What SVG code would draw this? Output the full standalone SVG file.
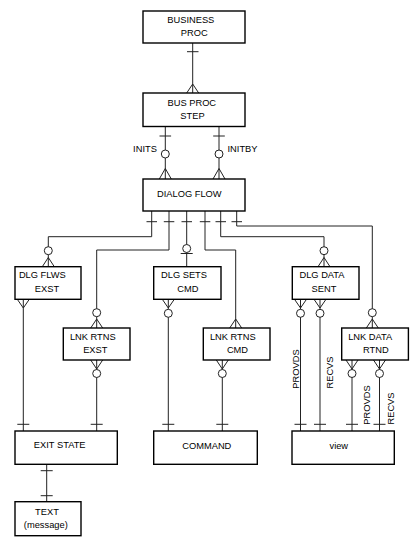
<svg xmlns="http://www.w3.org/2000/svg" width="419" height="551" viewBox="0 0 419 551">
<style>
.box{fill:#fff;stroke:#000;stroke-width:1.4}
.ln{fill:none;stroke:#222;stroke-width:1}
.c{fill:#fff;stroke:#222;stroke-width:1}
text{font-family:"Liberation Sans",Arial,sans-serif;font-size:9.3px;fill:#000;text-anchor:middle}
</style>
<rect width="419" height="551" fill="#fff"/>
<g id="connectors">
<!-- BUSINESS PROC - BUS PROC STEP -->
<path class="ln" d="M192.7 43V93M187 51.7H198.5M186.7 93L192.7 84L198.7 93"/>
<!-- INITS -->
<path class="ln" d="M165.3 126.5V179M159.5 136H171.1M159.3 179L165.3 168.5L171.3 179"/>
<circle class="c" cx="165.3" cy="154" r="4"/>
<!-- INITBY -->
<path class="ln" d="M219 126.5V179M213.2 136H224.8M213 179L219 168.5L225 179"/>
<circle class="c" cx="219" cy="154" r="4"/>
<!-- DIALOG FLOW fan-out -->
<path class="ln" d="M151.7 211V236.7H48.3V266.7M146.5 221.7H157M42.3 266.7L48.3 257.5L54.3 266.7"/>
<circle class="c" cx="48.3" cy="250.7" r="4"/>
<path class="ln" d="M169 211V250H96.7V328M163.8 221.7H174.3M90.7 328L96.7 319L102.7 328"/>
<circle class="c" cx="96.7" cy="312.7" r="4"/>
<path class="ln" d="M186.7 211V266.7M181.5 221.7H192M180.7 253.5H192.7"/>
<circle class="c" cx="186.7" cy="248.5" r="4"/>
<path class="ln" d="M205 211V250H235.7V328M199.8 221.7H210.3M229.7 328L235.7 319L241.7 328"/>
<path class="ln" d="M220.7 211V236.7H324V266.7M215.5 221.7H226M318 266.7L324 257.5L330 266.7"/>
<circle class="c" cx="324" cy="250.7" r="4"/>
<path class="ln" d="M236.7 211V226H372.3V328M231.5 221.7H242M366.3 328L372.3 319L378.3 328"/>
<circle class="c" cx="372.3" cy="312.7" r="4"/>
<!-- to EXIT STATE -->
<path class="ln" d="M23.3 299.3V431M17.3 299.3L23.3 308L29.3 299.3M17.3 424.3H29.3"/>
<path class="ln" d="M96.7 360V431M90.7 360L96.7 369L102.7 360M90.7 424.3H102.7"/>
<circle class="c" cx="96.7" cy="373.5" r="4"/>
<!-- to COMMAND -->
<path class="ln" d="M168.3 299.3V431M162.3 299.3L168.3 308L174.3 299.3M162.3 424.3H174.3"/>
<circle class="c" cx="168.3" cy="313.3" r="4"/>
<path class="ln" d="M222.3 360V431M216.3 360L222.3 369L228.3 360M216.3 424.3H228.3"/>
<circle class="c" cx="222.3" cy="373.5" r="4"/>
<!-- to view -->
<path class="ln" d="M300.5 299.3V431M294.5 299.3L300.5 308L306.5 299.3M294.5 424.3H306.5"/>
<circle class="c" cx="300.5" cy="313.3" r="4"/>
<path class="ln" d="M320 299.3V431M314 299.3L320 308L326 299.3M314 424.3H326"/>
<circle class="c" cx="320" cy="313.3" r="4"/>
<path class="ln" d="M352 360V431M346 360L352 369L358 360M346 424.3H358"/>
<circle class="c" cx="352" cy="373.5" r="4"/>
<path class="ln" d="M379.5 360V431M373.5 360L379.5 369L385.5 360M373.5 424.3H385.5"/>
<circle class="c" cx="379.5" cy="373.5" r="4"/>
<!-- EXIT STATE - TEXT -->
<path class="ln" d="M46.7 464.3V501.7M40.7 470.7H52.7M40.7 495.7H52.7"/>
<!-- labels -->
<text x="145" y="152.3">INITS</text>
<text x="242.5" y="152.3">INITBY</text>
<text transform="translate(298.6 369) rotate(-90)">PROVDS</text>
<text transform="translate(333 372.5) rotate(-90)">RECVS</text>
<text transform="translate(369.8 405) rotate(-90)">PROVDS</text>
<text transform="translate(393.8 408.5) rotate(-90)">RECVS</text>
</g>
<g id="business-proc"><rect class="box" x="143" y="11" width="102" height="32"/><text x="190.8" y="22.6">BUSINESS</text><text x="194.2" y="35.6">PROC</text></g>
<g id="bus-proc-step"><rect class="box" x="143" y="93" width="102" height="33.5"/><text x="191.8" y="106">BUS PROC</text><text x="192.5" y="119">STEP</text></g>
<g id="dialog-flow"><rect class="box" x="143" y="179" width="102" height="32"/><text x="189.3" y="196.6">DIALOG FLOW</text></g>
<g id="dlg-flws-exst"><rect class="box" x="15" y="266.7" width="66" height="32.6"/><text x="42.3" y="278.3">DLG FLWS</text><text x="47" y="292">EXST</text></g>
<g id="dlg-sets-cmd"><rect class="box" x="153.7" y="266.7" width="67.3" height="32.6"/><text x="184" y="278.3">DLG SETS</text><text x="187.8" y="292">CMD</text></g>
<g id="dlg-data-sent"><rect class="box" x="292.3" y="266.7" width="66.7" height="32.6"/><text x="322" y="278.3">DLG DATA</text><text x="324" y="292">SENT</text></g>
<g id="lnk-rtns-exst"><rect class="box" x="63.3" y="328" width="66.7" height="32"/><text x="92.8" y="339.6">LNK RTNS</text><text x="95.3" y="352.6">EXST</text></g>
<g id="lnk-rtns-cmd"><rect class="box" x="203.3" y="328" width="66.7" height="32"/><text x="232.8" y="339.6">LNK RTNS</text><text x="237.5" y="352.6">CMD</text></g>
<g id="lnk-data-rtnd"><rect class="box" x="341.7" y="328" width="66.7" height="32"/><text x="370.2" y="339.6">LNK DATA</text><text x="375.8" y="352.6">RTND</text></g>
<g id="exit-state"><rect class="box" x="15" y="431" width="102.3" height="33.3"/><text x="59.7" y="448.3">EXIT STATE</text></g>
<g id="command"><rect class="box" x="153.7" y="431" width="103.6" height="33.3"/><text x="206.8" y="449">COMMAND</text></g>
<g id="view"><rect class="box" x="292" y="431" width="102.3" height="33.3"/><text x="338.8" y="449">view</text></g>
<g id="text-message"><rect class="box" x="15" y="501.7" width="66" height="34"/><text x="47" y="515">TEXT</text><text x="45.8" y="528.3">(message)</text></g>
</svg>
